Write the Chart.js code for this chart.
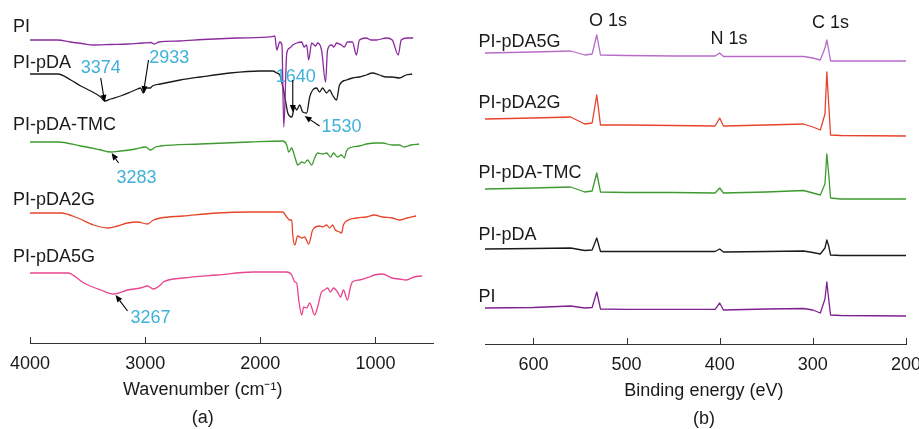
<!DOCTYPE html>
<html>
<head>
<meta charset="utf-8">
<script src="https://cdn.jsdelivr.net/npm/chart.js@4/dist/chart.umd.min.js"></script>
<style>
  html, body { margin: 0; padding: 0; background: #fff; overflow: hidden; }
  #wrap { position: relative; width: 919px; height: 429px; overflow: hidden; }
  canvas { position: absolute; top: 0; }
  #ftir { left: 0; }
  #xps { left: 460px; }
</style>
</head>
<body>
<div id="wrap">
  <canvas id="ftir" width="460" height="429"></canvas>
  <canvas id="xps" width="480" height="429"></canvas>
</div>
<script>
/* ---------- (a) FTIR spectra, offset for display ---------- */
const ftirNames = ['PI', 'PI-pDA', 'PI-pDA-TMC', 'PI-pDA2G', 'PI-pDA5G'];
const ftirTicks = [4000, 3000, 2000, 1000];

const piWn = [4000,3760,3650,3550,3450,3300,3150,3020,2950,2920,2880,2700,2500,2200,1900,1874,1857,1831,1812,1796,1770,1744,1718,1684,1640,1620,1597,1580,1554,1520,1502,1468,1433,1416,1381,1360,1338,1295,1270,1243,1200,1165,1139,1079,1040,992,906,854,802,776,724,672];
const piVal = [303,303,301,299.5,298,298.5,299,300,300.5,299,301,302,303.5,305,306.3,307,293,301,298,216,290,295,298,300,301,296,298,283,300,297,300,293,261,293,298,296,300,298,296,301,301,288,303,305,303,303,305,303,288,303,305,305];

const pdaWn = [4000,3758,3646,3559,3473,3386,3352,3300,3214,3127,3067,3041,3015,2989,2954,2937,2868,2695,2522,2263,2003,1891,1857,1831,1787,1761,1727,1701,1684,1658,1632,1597,1571,1545,1511,1485,1459,1424,1398,1373,1338,1312,1251,1200,1139,1079,1027,966,906,854,793,733,681];
const pdaVal = [269,269,263,257,252,246,242,244,247,251,254,255,250,255,255,257,259,263,266,270,272,272,270,268,246,230,226,236,233,238,231,230,246,253,255,251,255,250,253,248,243,258,263,265,266,268,270,268,266,266,265,268,269];

const tmcWn = [4000,3758,3559,3386,3300,3214,3084,2997,2954,2911,2868,2522,2090,1805,1770,1753,1727,1718,1692,1675,1640,1615,1589,1554,1528,1502,1459,1424,1390,1364,1329,1295,1269,1252,1200,1139,1079,992,940,854,793,750,690,621];
const tmcVal = [201,201,197,193,191,192,194,196,193,196,197,199,201,202,198,191,195,193,183,178,181,180,183,178,185,190,189,190,186,190,186,188,185,192,196,197,199,200,200,198,198,196,198,199];

const g2Wn = [4000,3732,3585,3447,3326,3239,3153,3067,2980,2928,2868,2669,2375,2090,1805,1770,1744,1727,1718,1701,1675,1640,1615,1580,1545,1485,1459,1424,1398,1373,1347,1312,1295,1278,1252,1165,1079,1010,940,854,793,724,647];
const g2Val = [130,130,125,118,115,117,120,121,119,123,125,127,130,131,131,126,123,123,108,98,107,105,106,99,113,117,116,118,115,118,113,111,110,118,122,125,126,128,126,125,123,125,127];

const g5Wn = [4000,3672,3533,3386,3274,3153,3041,2980,2928,2868,2842,2669,2375,2064,1770,1727,1701,1684,1666,1640,1623,1597,1571,1528,1502,1468,1442,1416,1390,1364,1329,1303,1278,1243,1217,1200,1139,1053,1010,940,854,793,733,664,595];
const g5Val = [70,70,60,53,49,53,55,57,54,58,61,65,68,71,71,68,61,60,43,28,36,35,40,28,36,51,53,55,51,55,51,46,53,43,56,61,63,66,68,69,65,64,63,66,67];

const ftirBands = ['3374', '2933', '1640', '1530', '3283', '3267'];

/* ---------- (b) XPS survey spectra, offset for display ---------- */
const xpsNames = ['PI-pDA5G', 'PI-pDA2G', 'PI-pDA-TMC', 'PI-pDA', 'PI'];
const xpsTicks = [600, 500, 400, 300, 200];
const xpsPeaks = ['O 1s', 'N 1s', 'C 1s'];

const xpsEv = [652,600,560,545,537,532,528,500,450,405,400,396,350,310,300,292,287,285,283,281,270,200];
const x5gVal = [291,292,293,289,290,309,289,288.5,288,288,291,287.5,287.5,287.5,286,284,296,304,294,283,283,283];
const x2gVal = [225,226,227,220,221,249,219,219,218.5,218,226,218,219,220,217,214,230,272,240,209,208.5,208];
const xTmcVal = [155,156,157,152,153,171,152,151.5,151.5,151,156,151,152,153.5,151,149,160,190,170,146,145,145];
const xPdaVal = [95,95.5,96,93.5,94,106,92.5,92.5,92.5,92.5,95,92,92.5,93,91.5,90,96,104,98,89,88.5,88.5];
const xPiVal = [36,36.5,38,36,36.5,52,35,34.7,34.7,34.7,41,34,35,35.5,34,31,45,62,45,29,28.5,28];

/* ---------- style ---------- */
const FONT = '18px "Liberation Sans", Arial, Helvetica, sans-serif';
const AXIS = '#333';
const TEXT = '#1a1a1a';
const BLUE = '#3fb1da';
const TICK_IN = 6;

Chart.defaults.font.family = '"Liberation Sans", Arial, Helvetica, sans-serif';
Chart.defaults.font.size = 18;

function pts(xs, ys) {
  return xs.map((v, i) => ({ x: v, y: ys[i] }));
}

function line(label, xs, ys, color, smooth) {
  return {
    label, data: pts(xs, ys), borderColor: color, borderWidth: 1.3,
    pointRadius: 0, fill: false, borderJoinStyle: 'round',
    cubicInterpolationMode: smooth ? 'monotone' : 'default', tension: 0
  };
}

function arrow(ctx, x0, y0, x1, y1) {
  const a = Math.atan2(y1 - y0, x1 - x0);
  const L = 7, W = 3;
  ctx.beginPath();
  ctx.moveTo(x0, y0);
  ctx.lineTo(x1 - L * Math.cos(a), y1 - L * Math.sin(a));
  ctx.stroke();
  ctx.beginPath();
  ctx.moveTo(x1, y1);
  ctx.lineTo(x1 - L * Math.cos(a) - W * Math.sin(a), y1 - L * Math.sin(a) + W * Math.cos(a));
  ctx.lineTo(x1 - L * Math.cos(a) + W * Math.sin(a), y1 - L * Math.sin(a) - W * Math.cos(a));
  ctx.closePath();
  ctx.fill();
}

// inner ticks, texts, arrows, axis title and panel letter drawn on top
function decor(cfg) {
  return {
    id: 'decor',
    afterDraw(chart) {
      const { ctx, chartArea } = chart;
      const xs = chart.scales.x, ys = chart.scales.y;
      ctx.save();
      ctx.strokeStyle = AXIS;
      ctx.lineWidth = 1;
      xs.ticks.forEach(t => {
        const px = Math.round(xs.getPixelForValue(t.value)) + 0.5;
        ctx.beginPath();
        ctx.moveTo(px, chartArea.bottom);
        ctx.lineTo(px, chartArea.bottom - TICK_IN);
        ctx.stroke();
      });
      ctx.font = FONT;
      ctx.textBaseline = 'middle';
      ctx.fillStyle = TEXT;
      ctx.textAlign = 'left';
      cfg.names.forEach((n, i) => {
        ctx.fillText(n, xs.getPixelForValue(cfg.nameX), ys.getPixelForValue(cfg.nameY[i]));
      });
      ctx.textAlign = 'center';
      (cfg.marks || []).forEach(m => {
        ctx.fillStyle = m.color || TEXT;
        ctx.fillText(m.text, xs.getPixelForValue(m.at[0]), ys.getPixelForValue(m.at[1]));
        if (m.from) {
          ctx.strokeStyle = '#000';
          ctx.fillStyle = '#000';
          ctx.lineWidth = 1.1;
          arrow(ctx, xs.getPixelForValue(m.from[0]), ys.getPixelForValue(m.from[1]),
                     xs.getPixelForValue(m.to[0]), ys.getPixelForValue(m.to[1]));
        }
      });
      ctx.fillStyle = TEXT;
      const cx = xs.getPixelForValue(cfg.titleX);
      ctx.fillText(cfg.title, cx, chartArea.bottom + 47);
      ctx.fillText(cfg.letter, cx, chartArea.bottom + 75);
      ctx.restore();
    }
  };
}

function xAxis(min, max, tickVals, h) {
  return {
    type: 'linear', reverse: true, min, max,
    afterBuildTicks: s => { s.ticks = tickVals.map(v => ({ value: v })); },
    afterFit: s => { s.height = h; },
    grid: { display: true, drawOnChartArea: false, drawTicks: false },
    border: { display: true, color: AXIS, width: 1 },
    ticks: {
      color: TEXT, padding: 10, maxRotation: 0, autoSkip: false, font: { size: 18 },
      callback: v => String(v)
    }
  };
}

const common = {
  responsive: false, animation: false, devicePixelRatio: 1,
  plugins: { legend: { display: false }, tooltip: { enabled: false } }
};

/* ---------- (a) ---------- */
new Chart(document.getElementById('ftir'), {
  type: 'line',
  data: {
    datasets: [
      line(ftirNames[0], piWn, piVal, '#8a2b9e', true),
      line(ftirNames[1], pdaWn, pdaVal, '#1a1a1a', true),
      line(ftirNames[2], tmcWn, tmcVal, '#3d9a2f', true),
      line(ftirNames[3], g2Wn, g2Val, '#e5452b', true),
      line(ftirNames[4], g5Wn, g5Val, '#e8458f', true)
    ]
  },
  options: {
    ...common,
    layout: { padding: { left: 29, right: 27, top: 0, bottom: 0 } },
    scales: {
      x: xAxis(500, 4000, ftirTicks, 86),
      y: { display: false, min: 0, max: 343 }
    }
  },
  plugins: [decor({
    names: ftirNames, nameX: 4147, nameY: [316, 280, 218, 143, 86],
    title: 'Wavenumber (cm\u207B\u00B9)', titleX: 2500, letter: '(a)',
    marks: [
      { text: ftirBands[0], color: BLUE, at: [3386, 275], from: [3386, 265], to: [3352, 241] },
      { text: ftirBands[1], color: BLUE, at: [2790, 285], from: [2971, 283], to: [3015, 250] },
      { text: ftirBands[2], color: BLUE, at: [1692, 266], from: [1718, 263], to: [1718, 231] },
      { text: ftirBands[3], color: BLUE, at: [1295, 216], from: [1485, 217], to: [1615, 227] },
      { text: ftirBands[4], color: BLUE, at: [3075, 165], from: [3231, 180], to: [3291, 190] },
      { text: ftirBands[5], color: BLUE, at: [2954, 25], from: [3153, 32], to: [3257, 48] }
    ]
  })]
});

/* ---------- (b) ---------- */
new Chart(document.getElementById('xps'), {
  type: 'line',
  data: {
    datasets: [
      line(xpsNames[0], xpsEv, x5gVal, '#b86cc8', false),
      line(xpsNames[1], xpsEv, x2gVal, '#e8432c', false),
      line(xpsNames[2], xpsEv, xTmcVal, '#3d9a2f', false),
      line(xpsNames[3], xpsEv, xPdaVal, '#1a1a1a', false),
      line(xpsNames[4], xpsEv, xPiVal, '#7d2090', false)
    ]
  },
  options: {
    ...common,
    layout: { padding: { left: 25, right: 34, top: 0, bottom: 0 } },
    scales: {
      x: xAxis(200, 652, xpsTicks, 85),
      y: { display: false, min: 0, max: 344 }
    }
  },
  plugins: [decor({
    names: xpsNames, nameX: 659, nameY: [302, 241, 171, 109, 47],
    title: 'Binding energy (eV)', titleX: 417, letter: '(b)',
    marks: [
      { text: xpsPeaks[0], at: [520, 322.5] },
      { text: xpsPeaks[1], at: [390, 305] },
      { text: xpsPeaks[2], at: [281, 321] }
    ]
  })]
});
</script>
</body>
</html>
